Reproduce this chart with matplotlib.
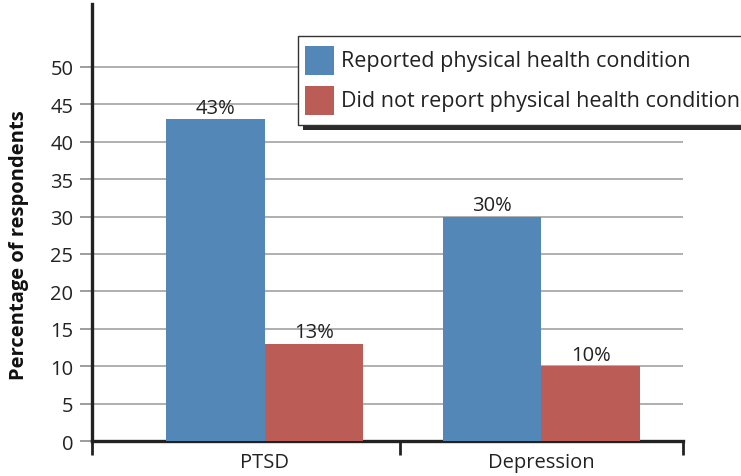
import matplotlib.pyplot as plt
import matplotlib.patches as mpatches
import numpy as np

# chart data
categories = ['PTSD', 'Depression']
reported = [43, 30]
not_reported = [13, 10]
series_names = ['Reported physical health condition',
                'Did not report physical health condition']
yticks = [0, 5, 10, 15, 20, 25, 30, 35, 40, 45, 50]

blue = '#5287B7'
red = '#BB5C56'
colors = [blue, red]

plt.rcParams['font.family'] = ['Open Sans', 'DejaVu Sans']

fig = plt.figure(figsize=(7.41, 4.77), dpi=100)
ax = fig.add_axes([92 / 741, 1 - 442 / 477, 591 / 741, 437 / 477])

x = np.arange(len(categories))
w = 0.357
b1 = ax.bar(x - w / 2, reported, w, color=blue, zorder=3)
b2 = ax.bar(x + w / 2, not_reported, w, color=red, zorder=3)

# value labels
for bars in (b1, b2):
    for rect in bars:
        h = rect.get_height()
        ax.text(rect.get_x() + rect.get_width() / 2, h + 0.2, f'{h:.0f}%',
                ha='center', va='bottom', fontsize=14.5, color='#222222',
                zorder=4)

ax.set_xlim(-0.623, 1.511)
ax.set_ylim(0, 58.4)

ax.set_yticks(yticks)
ax.tick_params(axis='y', length=9, width=1.2, color='#8c8c8c',
               labelsize=14.5, labelcolor='#222222', pad=4.5)
ax.grid(axis='y', color='#9a9a9a', linewidth=1.1, zorder=0)

# category labels without tick marks, separator marks as minor ticks
ax.set_xticks(x)
ax.set_xticklabels(categories)
ax.tick_params(axis='x', which='major', length=0, labelsize=14.5,
               labelcolor='#222222', pad=8)
ax.set_xticks([-0.623, 0.489, 1.511], minor=True)
ax.tick_params(axis='x', which='minor', length=10, width=2, color='#222222',
               direction='out')

for s in ('top', 'right'):
    ax.spines[s].set_visible(False)
for s in ('left', 'bottom'):
    ax.spines[s].set_linewidth(2.4)
    ax.spines[s].set_color('#222222')

ax.set_ylabel('Percentage of respondents', fontsize=14.5, fontweight='bold',
              color='#111111')
ax.yaxis.set_label_coords(-0.106, 0.45)

# legend box drawn by hand on an overlay in pixel units (it runs off the right edge)
lg = fig.add_axes([0, 0, 1, 1], zorder=10)
lg.set_xlim(0, 741)
lg.set_ylim(477, 0)
lg.axis('off')
lg.add_patch(mpatches.Rectangle((303, 42), 460, 89, facecolor='#2b2b2b',
                                edgecolor='none'))
lg.add_patch(mpatches.Rectangle((298, 37), 460, 89, facecolor='white',
                                edgecolor='#333333', linewidth=1.0))
for i, (name, c) in enumerate(zip(series_names, colors)):
    top = 47 + i * 40
    lg.add_patch(mpatches.Rectangle((305, top), 29, 29, facecolor=c,
                                    edgecolor='none'))
    lg.text(341, top + 14.5, name, fontsize=15.5, color='#222222',
            ha='left', va='center')

plt.savefig('out.png', dpi=100)
